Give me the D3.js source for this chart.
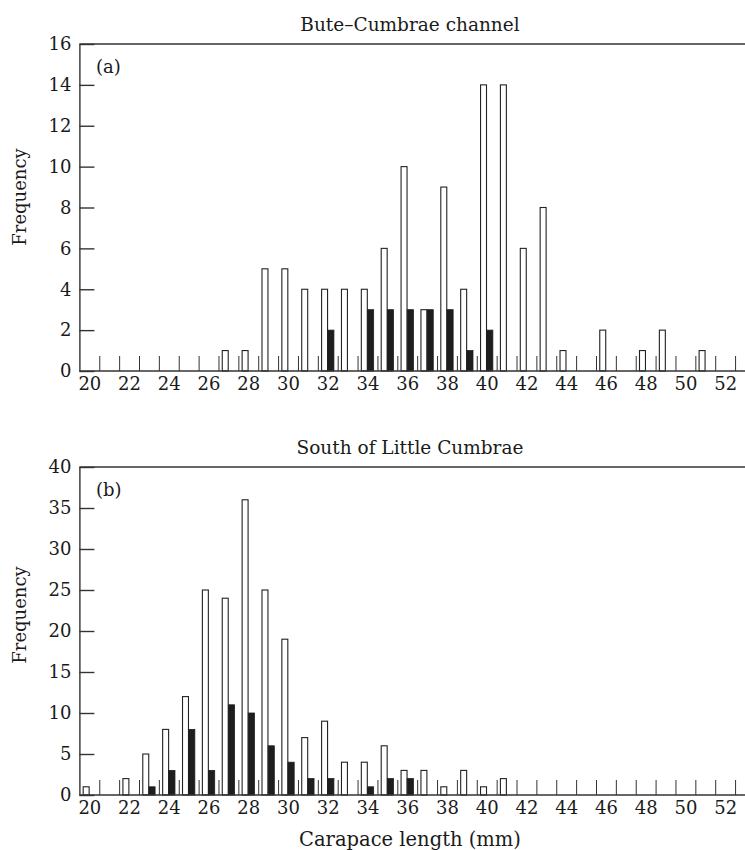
<!DOCTYPE html>
<html><head><meta charset="utf-8">
<script src="https://cdn.jsdelivr.net/npm/d3@7"></script>
<style>
body{margin:0;background:#fff}
svg{display:block}
text{font-family:"DejaVu Serif",serif;fill:#1a1a1a}
</style>
</head><body>
<svg id="chart" width="745" height="850"></svg>
<script>
// Carapace length classes (mm)
const lengths = d3.range(20, 53);
// Panel (a) Bute–Cumbrae channel: open bars and filled bars, lengths 20..52
const buteOpen   = [0,0,0,0,0,0,0,1,1,5,5,4,4,4,4,6,10,3,9,4,14,14,6,8,1,0,2,0,1,2,0,1,0];
const buteFilled = [0,0,0,0,0,0,0,0,0,0,0,0,2,0,3,3,3,3,3,1,2,0,0,0,0,0,0,0,0,0,0,0,0];
// Panel (b) South of Little Cumbrae
const southOpen   = [1,0,2,5,8,12,25,24,36,25,19,7,9,4,4,6,3,3,1,3,1,2,0,0,0,0,0,0,0,0,0,0,0];
const southFilled = [0,0,0,1,3,8,3,11,10,6,4,2,2,0,1,2,2,0,0,0,0,0,0,0,0,0,0,0,0,0,0,0,0];
const xLabels = d3.range(20, 53, 2);
const buteYTicks = d3.range(0, 17, 2);
const southYTicks = d3.range(0, 41, 5);

const svg = d3.select("#chart");
const x = d3.scaleLinear().domain([19.5, 53]).range([79.4, 745]);

function panel(opts) {
  const y = d3.scaleLinear().domain([0, opts.ymax]).range([opts.bottom, opts.top]);
  const g = svg.append("g");

  // bars
  const openData = lengths.map((l, i) => ({l, v: opts.open[i]})).filter(d => d.v > 0);
  const fillData = lengths.map((l, i) => ({l, v: opts.filled[i]})).filter(d => d.v > 0);
  g.selectAll("rect.o").data(openData).join("rect")
    .attr("x", d => x(d.l - 0.31)).attr("width", d => x(d.l - 0.01) - x(d.l - 0.31))
    .attr("y", d => y(d.v)).attr("height", d => y(0) - y(d.v))
    .attr("fill", "#fff").attr("stroke", "#222").attr("stroke-width", 1.1);
  g.selectAll("rect.f").data(fillData).join("rect")
    .attr("x", d => x(d.l)).attr("width", d => x(d.l + 0.31) - x(d.l))
    .attr("y", d => y(d.v)).attr("height", d => y(0) - y(d.v))
    .attr("fill", "#1e1e1e").attr("stroke", "#1e1e1e").attr("stroke-width", 0.8);

  // x ticks at class boundaries (inside)
  const xt = g.append("g").attr("transform", `translate(0,${y(0)})`)
    .call(d3.axisBottom(x).tickValues(d3.range(20.5, 53, 1)).tickSizeInner(-15).tickSizeOuter(0).tickFormat(""));
  xt.select(".domain").remove();
  xt.selectAll(".tick line").attr("stroke", "#333").attr("stroke-width", 1);

  // x labels
  const xl = g.append("g").attr("transform", `translate(0,${y(0)})`)
    .call(d3.axisBottom(x).tickValues(xLabels).tickSize(0).tickPadding(6).tickFormat(d3.format("d")));
  xl.select(".domain").remove();
  xl.selectAll("text").attr("font-size", 18).attr("font-family", "DejaVu Serif").attr("fill", "#1a1a1a");

  // y axis
  const ya = g.append("g").attr("transform", `translate(${x(19.5)},0)`)
    .call(d3.axisLeft(y).tickValues(opts.yticks).tickSizeInner(-15).tickSizeOuter(0).tickPadding(8));
  ya.select(".domain").attr("stroke", "#333").attr("stroke-width", 1.4);
  ya.selectAll(".tick line").attr("stroke", "#333").attr("stroke-width", 1.4);
  ya.selectAll("text").attr("font-size", 18).attr("font-family", "DejaVu Serif").attr("fill", "#1a1a1a");

  // baseline and top frame
  g.append("line").attr("x1", x(19.5)).attr("x2", x(53)).attr("y1", y(0)).attr("y2", y(0))
    .attr("stroke", "#333").attr("stroke-width", 1.4);
  g.append("line").attr("x1", x(19.5)).attr("x2", x(53)).attr("y1", y(opts.ymax)).attr("y2", y(opts.ymax))
    .attr("stroke", "#333").attr("stroke-width", 1.4);

  // title
  g.append("text").attr("x", 410).attr("y", opts.top - 13).attr("text-anchor", "middle")
    .attr("font-size", 18.5).text(opts.title);
  // panel letter
  g.append("text").attr("x", 96).attr("y", opts.top + 29).attr("font-size", 18).text(opts.letter);
  // y label
  g.append("text").attr("transform", `translate(26,${opts.labelY}) rotate(-90)`)
    .attr("text-anchor", "middle").attr("font-size", 18).text("Frequency");
  return y;
}

panel({title: "Bute–Cumbrae channel", letter: "(a)", open: buteOpen, filled: buteFilled,
       ymax: 16, yticks: buteYTicks, top: 44, bottom: 371, labelY: 197});
panel({title: "South of Little Cumbrae", letter: "(b)", open: southOpen, filled: southFilled,
       ymax: 40, yticks: southYTicks, top: 467, bottom: 795, labelY: 615});

svg.append("text").attr("x", 410).attr("y", 846).attr("text-anchor", "middle")
  .attr("font-size", 19.5).text("Carapace length (mm)");
</script>
</body></html>
